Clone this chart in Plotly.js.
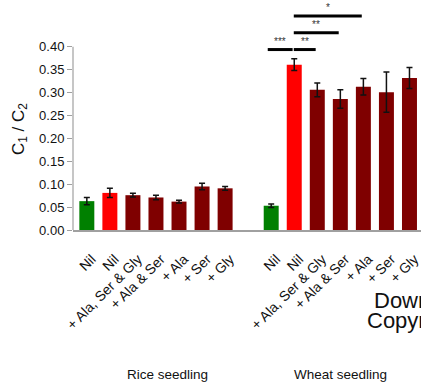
<!DOCTYPE html>
<html><head><meta charset="utf-8">
<script src="https://cdn.plot.ly/plotly-3.0.1.min.js"></script>
<style>html,body{margin:0;padding:0;background:#fff;}#chart{width:421px;height:383px;}</style>
</head><body><div id="chart"></div>
<script>
// Data
const treatments = ["Nil", "Nil", "+ Ala, Ser & Gly", "+ Ala & Ser", "+ Ala", "+ Ser", "+ Gly"];
const groups = ["Rice seedling", "Wheat seedling"];
const riceValues = [0.063, 0.081, 0.076, 0.071, 0.062, 0.095, 0.091];
const riceErrors = [0.008, 0.010, 0.004, 0.005, 0.003, 0.007, 0.004];
const wheatValues = [0.053, 0.361, 0.306, 0.286, 0.313, 0.301, 0.332];
const wheatErrors = [0.004, 0.013, 0.015, 0.020, 0.018, 0.044, 0.023];
const barColors = ["#008000", "#ff0000", "#7f0000", "#7f0000", "#7f0000", "#7f0000", "#7f0000"];
// significance comparisons within wheat group (treatment indices)
const sigFrom = [0, 1, 1, 1];
const sigTo = [1, 2, 3, 4];
const sigLabels = ["***", "**", "**", "*"];
const sigLevel = [0, 0, 1, 2];

const n = treatments.length;
const gap = 1;
const riceX = treatments.map((_, i) => i);
const wheatX = treatments.map((_, i) => n + gap + i);

const traces = [
  {type: "bar", x: riceX, y: riceValues, marker: {color: barColors},
   error_y: {type: "data", array: riceErrors, visible: true, color: "#111", thickness: 1.5, width: 3},
   width: 0.65, hoverinfo: "skip", showlegend: false},
  {type: "bar", x: wheatX, y: wheatValues, marker: {color: barColors},
   error_y: {type: "data", array: wheatErrors, visible: true, color: "#111", thickness: 1.5, width: 3},
   width: 0.65, hoverinfo: "skip", showlegend: false}
];

const font = "Arial, 'Liberation Sans', sans-serif";
const shapes = [
  {type: "line", xref: "paper", yref: "y", x0: 0, x1: 0, y0: 0, y1: 0.4,
   line: {color: "#a0a0a0", width: 1.2}}
];
const annotations = [];
sigFrom.forEach((a, k) => {
  const x0 = wheatX[a] - (a === 0 ? 0.15 : 0.02);
  const x1 = wheatX[sigTo[k]] - 0.07;
  const yl = 0.394 + sigLevel[k] * 0.0365;
  shapes.push({type: "line", xref: "x", yref: "y", x0: x0, x1: x1, y0: yl, y1: yl,
    line: {color: "#000", width: 3}});
  annotations.push({xref: "x", yref: "y", x: (x0 + x1) / 2, y: yl, text: sigLabels[k],
    showarrow: false, yanchor: "bottom", yshift: 1, font: {family: font, size: 10, color: "#333"}});
});
annotations.push({xref: "x", yref: "paper", x: 3.5, y: -0.672, text: groups[0], showarrow: false,
  font: {family: font, size: 13.5, color: "#111"}});
annotations.push({xref: "x", yref: "paper", x: wheatX[3], y: -0.672, text: groups[1], showarrow: false,
  font: {family: font, size: 13.5, color: "#111"}});
annotations.push({xref: "paper", yref: "paper", x: -0.167, xshift: -8, y: 0.44, text: "C<sub>1</sub> / C<sub>2</sub>",
  textangle: -90, showarrow: false, font: {family: font, size: 17, color: "#111"}});
annotations.push({xref: "paper", yref: "paper", x: 0.86, y: -0.372, xanchor: "left", text: "Down",
  showarrow: false, font: {family: font, size: 22, color: "#111"}});
annotations.push({xref: "paper", yref: "paper", x: 0.84, y: -0.46, xanchor: "left", text: "Copyr",
  showarrow: false, font: {family: font, size: 22, color: "#111"}});

const layout = {
  width: 421, height: 383,
  margin: {l: 73, r: 0, t: 1, b: 153},
  paper_bgcolor: "#fff", plot_bgcolor: "#fff",
  bargap: 0.35,
  xaxis: {range: [-0.6, 14.5], tickvals: riceX.concat(wheatX), ticktext: treatments.concat(treatments),
    tickangle: -45, showline: true, linecolor: "#a0a0a0", linewidth: 1.5, ticks: "", showgrid: false,
    ticklabelstandoff: 14, ticklabelshift: 5, ticklabeloverflow: "allow",
    zeroline: false, tickfont: {family: font, size: 14, color: "#111"}},
  yaxis: {range: [0, 0.5], tickvals: [0, 0.05, 0.1, 0.15, 0.2, 0.25, 0.3, 0.35, 0.4],
    ticktext: ["0.00","0.05","0.10","0.15","0.20","0.25","0.30","0.35","0.40"],
    ticks: "outside", ticklen: 5, tickcolor: "#a0a0a0", showline: false, showgrid: false, zeroline: false,
    tickfont: {family: font, size: 13, color: "#111"}},
  shapes: shapes, annotations: annotations
};
Plotly.newPlot("chart", traces, layout, {staticPlot: true, displayModeBar: false});
</script></body></html>
